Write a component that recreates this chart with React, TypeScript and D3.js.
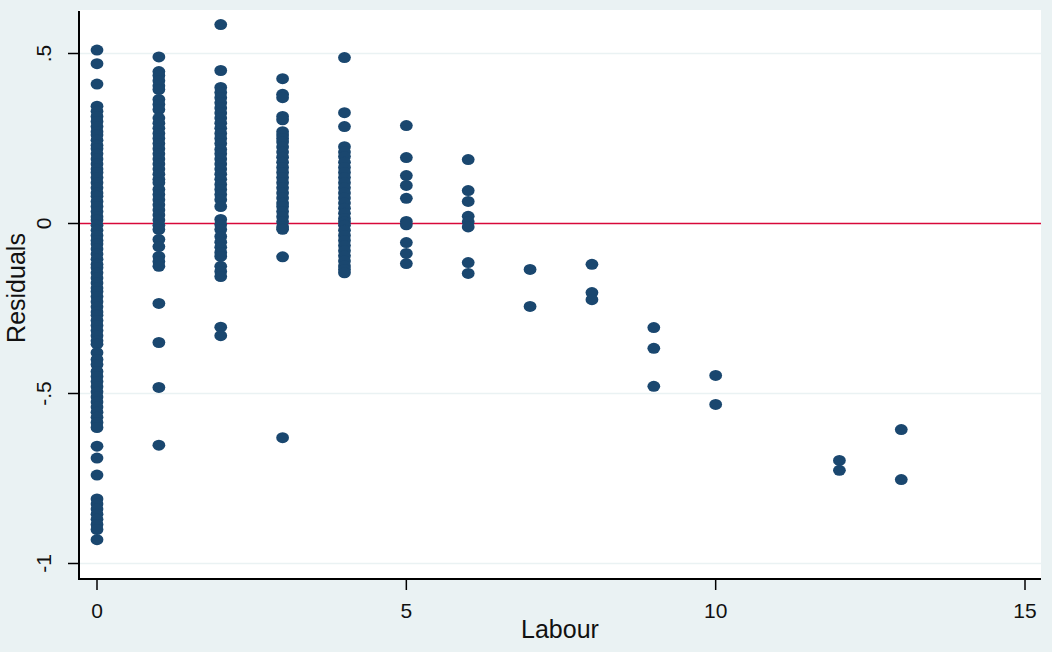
import React from "react";
import * as d3 from "d3";

// Residuals by Labour value
const res0 = [0.51, 0.47, 0.41, 0.345, 0.33, 0.315, 0.30, 0.285, 0.27, 0.26, 0.245, 0.23, 0.22, 0.205, 0.19, 0.175, 0.16, 0.15, 0.135, 0.12, 0.105, 0.09, 0.08, 0.065, 0.05, 0.035, 0.02, 0.01, -0.005, -0.02, -0.035, -0.05, -0.06, -0.075, -0.09, -0.105, -0.12, -0.13, -0.145, -0.16, -0.175, -0.19, -0.2, -0.215, -0.23, -0.245, -0.26, -0.27, -0.285, -0.30, -0.315, -0.33, -0.345, -0.355, -0.38, -0.40, -0.415, -0.435, -0.45, -0.465, -0.48, -0.495, -0.51, -0.525, -0.54, -0.555, -0.57, -0.585, -0.60, -0.655, -0.69, -0.74, -0.81, -0.825, -0.84, -0.855, -0.87, -0.885, -0.90, -0.93];
const res1 = [0.49, 0.447, 0.435, 0.42, 0.405, 0.394, 0.365, 0.35, 0.335, 0.31, 0.295, 0.28, 0.265, 0.25, 0.235, 0.22, 0.205, 0.19, 0.175, 0.16, 0.145, 0.13, 0.12, 0.10, 0.085, 0.07, 0.055, 0.04, 0.025, 0.01, -0.005, -0.018, -0.047, -0.068, -0.097, -0.112, -0.126, -0.235, -0.35, -0.482, -0.652];
const res2 = [0.585, 0.45, 0.40, 0.385, 0.37, 0.355, 0.34, 0.325, 0.31, 0.295, 0.28, 0.265, 0.25, 0.235, 0.218, 0.205, 0.19, 0.175, 0.16, 0.145, 0.13, 0.115, 0.10, 0.085, 0.07, 0.05, 0.012, -0.003, -0.018, -0.038, -0.055, -0.07, -0.085, -0.097, -0.126, -0.141, -0.156, -0.305, -0.33];
const res3 = [0.426, 0.38, 0.37, 0.315, 0.305, 0.27, 0.26, 0.25, 0.24, 0.225, 0.21, 0.195, 0.18, 0.165, 0.15, 0.135, 0.12, 0.105, 0.09, 0.075, 0.06, 0.05, 0.035, 0.02, 0.005, -0.01, -0.017, -0.098, -0.63];
const res4 = [0.488, 0.326, 0.285, 0.226, 0.21, 0.197, 0.18, 0.165, 0.15, 0.135, 0.12, 0.105, 0.09, 0.075, 0.06, 0.045, 0.03, 0.015, 0.005, -0.005, -0.02, -0.035, -0.05, -0.065, -0.08, -0.095, -0.11, -0.125, -0.135, -0.145];
const res5 = [0.288, 0.194, 0.141, 0.112, 0.074, 0.006, -0.004, -0.056, -0.088, -0.118];
const res6 = [0.188, 0.097, 0.065, 0.021, 0.005, -0.01, -0.115, -0.147];
const res7 = [-0.135, -0.244];
const res8 = [-0.12, -0.203, -0.224];
const res9 = [-0.306, -0.367, -0.479];
const res10 = [-0.447, -0.532];
const res12 = [-0.697, -0.726];
const res13 = [-0.606, -0.753];

const labourGroups: [number, number[]][] = [
  [0, res0], [1, res1], [2, res2], [3, res3], [4, res4], [5, res5], [6, res6],
  [7, res7], [8, res8], [9, res9], [10, res10], [12, res12], [13, res13],
];

const xTicks = [0, 5, 10, 15];
const yTicks = [0.5, 0, -0.5, -1];
const yTickLabels = [".5", "0", "-.5", "-1"];
const yGrid = [0.5, -0.5, -1];

const W = 1052;
const H = 652;
const FONT = "'Liberation Sans', Arial, sans-serif";

export default function App() {
  const x = d3.scaleLinear().domain([0, 15]).range([97, 1025]);
  const y = d3.scaleLinear().domain([-1, 0.5]).range([563.5, 53.5]);
  const left = 79;
  const right = 1041;
  const top = 10;
  const bottom = 579;

  const points = labourGroups.flatMap(([lab, vals]) => vals.map((v) => ({ lab, v })));

  return (
    <svg
      width={W}
      height={H}
      style={{ position: "absolute", left: 0, top: 0 }}
      fontFamily={FONT}
    >
      <rect x={0} y={0} width={W} height={H} fill="#eaf2f3" />
      <rect x={left} y={top} width={right - left} height={bottom - top} fill="#ffffff" />
      {yGrid.map((g) => (
        <line key={g} x1={left} x2={right} y1={y(g)} y2={y(g)} stroke="#eaf2f3" strokeWidth={1.6} />
      ))}
      <line x1={left} x2={right} y1={y(0)} y2={y(0)} stroke="#d8083a" strokeWidth={1.6} />
      {points.map((p, i) => (
        <ellipse key={i} cx={x(p.lab)} cy={y(p.v)} rx={6.4} ry={5.5} fill="#1a476f" />
      ))}
      {/* axes */}
      <line x1={left} x2={left} y1={top + 1} y2={bottom + 1} stroke="#000" strokeWidth={2} />
      <line x1={left - 1} x2={right} y1={bottom} y2={bottom} stroke="#000" strokeWidth={2} />
      {yTicks.map((t, i) => (
        <g key={t}>
          <line x1={left - 11} x2={left} y1={y(t)} y2={y(t)} stroke="#000" strokeWidth={1.5} />
          <text
            transform={`translate(${51},${y(t)}) rotate(-90)`}
            textAnchor="middle"
            fontSize={21}
            fill="#111"
          >
            {yTickLabels[i]}
          </text>
        </g>
      ))}
      {xTicks.map((t) => (
        <g key={t}>
          <line x1={x(t)} x2={x(t)} y1={bottom} y2={bottom + 11} stroke="#000" strokeWidth={1.5} />
          <text x={x(t)} y={618} textAnchor="middle" fontSize={21} fill="#111">
            {t}
          </text>
        </g>
      ))}
      <text x={560} y={638} textAnchor="middle" fontSize={25} fill="#111">
        Labour
      </text>
      <text
        transform={`translate(${25},${288}) rotate(-90)`}
        textAnchor="middle"
        fontSize={25}
        fill="#111"
      >
        Residuals
      </text>
    </svg>
  );
}
